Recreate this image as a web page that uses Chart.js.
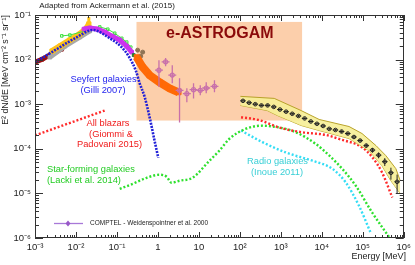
<!DOCTYPE html>
<html>
<head>
<meta charset="utf-8">
<script src="https://cdn.jsdelivr.net/npm/chart.js@4"></script>
<style>
  html, body { margin: 0; padding: 0; background: #fff; }
  #wrap { width: 415px; height: 265px; }
</style>
</head>
<body>
<div id="wrap"><canvas id="egb" width="415" height="265"></canvas></div>
<script>
// Energy in MeV, flux as E^2 dN/dE [MeV cm^-2 s^-1 sr^-1]
const xTicks = [1e-3, 1e-2, 1e-1, 1, 10, 1e2, 1e3, 1e4, 1e5, 1e6];
const xTickLabels = ['10⁻³', '10⁻²', '10⁻¹', '1', '10', '10²', '10³', '10⁴', '10⁵', '10⁶'];
const yTicks = [1e-6, 1e-5, 1e-4, 1e-3, 1e-2, 1e-1];
const yTickLabels = ['10⁻⁶', '10⁻⁵', '10⁻⁴', '10⁻³', '10⁻²', '10⁻¹'];

// model curves
const seyfertE = [1e-3, 3.1e-3, 9.4e-3, 2.6e-2, 6.7e-2, 0.13, 0.2, 0.29, 0.36, 0.47, 0.63, 0.83, 1.02];
const seyfertF = [8.7e-3, 1.63e-2, 3.0e-2, 4.6e-2, 3.0e-2, 1.9e-2, 1.13e-2, 5.6e-3, 2.9e-3, 1.5e-3, 5.0e-4, 1.5e-4, 6.3e-5];
const blazarLowE = [1e-3, 0.05];
const blazarLowF = [2.0e-4, 7.2e-4];
const blazarE = [107, 295, 912, 3390, 12600, 26300, 97700, 1.7e5, 2.95e5, 5.25e5];
const blazarF = [5.1e-4, 4.4e-4, 3.0e-4, 2.34e-4, 2.04e-4, 1.66e-4, 1.07e-4, 6.5e-5, 2.95e-5, 8.1e-6];
const starE = [0.117, 0.242, 0.53, 1.1, 1.63, 2.15, 3.37, 7.0, 18.1, 31.6, 55, 141, 355, 912, 2340, 7080, 15100, 31600, 67600, 1.7e5, 4.8e5];
const starF = [1.26e-5, 1.64e-5, 2.24e-5, 2.62e-5, 2.37e-5, 1.73e-5, 1.92e-5, 2.24e-5, 5.4e-5, 9.1e-5, 1.66e-4, 2.82e-4, 3.3e-4, 3.0e-4, 2.34e-4, 1.29e-4, 7.1e-5, 3.55e-5, 1.48e-5, 3.7e-6, 9.3e-7];
const radioE = [107, 355, 1320, 5900, 18200, 38000, 81300, 1.55e5];
const radioF = [2.57e-4, 1.41e-4, 8.3e-5, 5.4e-5, 3.55e-5, 1.78e-5, 5.2e-6, 1.32e-6];

// Fermi-LAT EGB
const fermiE = [119, 168, 238, 336, 475, 672, 950, 1344, 1900, 2690, 3800, 5380, 7600, 10760, 15200, 21500, 30400, 43000, 60800, 86000, 121600, 172000, 243000, 344000, 486000, 688000];
const fermiF = [1.19e-3, 1.08e-3, 1.0e-3, 9.4e-4, 9.4e-4, 8.7e-4, 7.6e-4, 6.8e-4, 6.1e-4, 5.45e-4, 4.8e-4, 4.1e-4, 3.64e-4, 3.25e-4, 2.8e-4, 2.64e-4, 2.44e-4, 2.2e-4, 1.84e-4, 1.53e-4, 1.18e-4, 9.35e-5, 7.2e-5, 5.15e-5, 2.9e-5, 1.82e-5];
const fermiErr = [0.06, 0.06, 0.06, 0.06, 0.06, 0.06, 0.06, 0.06, 0.06, 0.06, 0.06, 0.06, 0.06, 0.06, 0.06, 0.06, 0.07, 0.07, 0.08, 0.08, 0.1, 0.12, 0.15, 0.2, 0.3, 0.45];
const bandUpE = [103, 690, 3130, 8590, 46100, 95700, 2.1e5, 3.67e5, 6.43e5, 8.2e5];
const bandUpF = [1.5e-3, 1.35e-3, 7.2e-4, 4.55e-4, 3.16e-4, 2.2e-4, 1.18e-4, 7.0e-5, 3.58e-5, 1.92e-5];
const bandLoE = [103, 467, 817, 3130, 8590, 46100, 1.42e5, 2.93e5, 4.85e5, 8.2e5];
const bandLoF = [9.4e-4, 7.2e-4, 5.6e-4, 3.33e-4, 2.57e-4, 1.7e-4, 9.1e-5, 4.19e-5, 1.92e-5, 1.0e-5];

// COMPTEL
const comptelE = [1.06, 1.54, 2.24, 3.37, 5.08, 7.4, 10.8, 15.1, 24];
const comptelF = [5.8e-3, 8.9e-3, 4.5e-3, 2.05e-3, 1.72e-3, 2.12e-3, 2.05e-3, 2.31e-3, 2.52e-3];
const comptelLo = [2.43e-3, 7.1e-3, 2.94e-3, 3.9e-4, 1.11e-3, 1.35e-3, 1.58e-3, 1.75e-3, 1.85e-3];
const comptelHi = [9.7e-3, 1.08e-2, 7.5e-3, 3.81e-3, 2.27e-3, 2.94e-3, 2.65e-3, 3.1e-3, 3.44e-3];

// low-energy measurements
const orangeE = [0.303, 0.425, 0.628, 1.1, 1.93, 3.19];
const orangeF = [1.13e-2, 6.75e-3, 4.46e-3, 3.1e-3, 2.27e-3, 1.85e-3];
const darkRedE = [1.0e-3, 1.5e-3, 2.3e-3, 3.4e-3, 4.5e-3];
const darkRedF = [8.7e-3, 1.02e-2, 1.26e-2, 1.55e-2, 1.71e-2];
const yellowE = [2.6e-3, 4.1e-3, 7.1e-3, 1.24e-2, 1.84e-2, 2.06e-2];
const yellowF = [1.55e-2, 2.0e-2, 2.74e-2, 3.73e-2, 5.1e-2, 6.3e-2];
const grayE = [2.3e-3, 5.4e-3, 1.24e-2, 2.18e-2];
const grayF = [1.13e-2, 2.0e-2, 3.2e-2, 4.4e-2];
const greenE = [4.5e-3, 7.1e-3, 3.8e-2, 5.97e-2, 8.8e-2, 0.131, 0.173, 0.217];
const greenF = [3.4e-2, 3.55e-2, 5.4e-2, 4.8e-2, 3.9e-2, 3.0e-2, 2.47e-2, 1.9e-2];
const magentaE = [1.56e-2, 2.18e-2, 3.23e-2, 5.05e-2, 7.46e-2, 0.117, 0.173, 0.229];
const magentaF = [4.84e-2, 5.1e-2, 4.84e-2, 4.14e-2, 3.37e-2, 2.74e-2, 2.0e-2, 1.47e-2];
const brownE = [0.32, 0.38, 0.425];
const brownF = [1.63e-2, 1.19e-2, 1.47e-2];
const dkGreenE = [0.257];
const dkGreenF = [1.26e-2];

// e-ASTROGAM range
const boxE = [0.3, 3300];
const boxF = [4.3e-4, 0.07];

const FONT = '"Liberation Sans", Arial, sans-serif';
const pts = (xs, ys) => xs.map((x, i) => ({ x, y: ys[i] }));

const dotted = (label, xs, ys, color, width, dash) => ({
    label, data: pts(xs, ys), borderColor: color, backgroundColor: color,
    borderWidth: width, borderDash: dash, borderCapStyle: 'butt',
    pointRadius: 0, cubicInterpolationMode: 'monotone', fill: false
});
const blob = (label, xs, ys, color, width, radius) => ({
    label, data: pts(xs, ys), borderColor: color, backgroundColor: color,
    borderWidth: width, pointStyle: 'rect', pointRadius: radius, pointBorderWidth: 1,
    fill: false
});

const datasets = [
    dotted('Seyfert galaxies', seyfertE, seyfertF, '#2020d8', 2.6, [2, 1.2]),
    Object.assign(blob('COMPTEL', comptelE, comptelF, '#c870aa', 0, 2), {
        showLine: false, pointStyle: 'circle', backgroundColor: 'rgba(0,0,0,0)', pointBorderWidth: 1.2,
        errY: comptelLo.map((lo, i) => [lo, comptelHi[i]]), errX: 1.25, errColor: '#c870aa', errWidth: 1.3
    }),
    Object.assign(blob('Fermi-LAT', fermiE, fermiF, '#222', 0, 1.8), {
        showLine: false, pointStyle: 'circle', backgroundColor: 'rgba(0,0,0,0)', pointBorderWidth: 1,
        errY: fermiF.map((f, i) => [f * (1 - fermiErr[i]), f * (1 + fermiErr[i])]), errX: 1.17, errColor: '#222', errWidth: 1
    }),
    { label: 'band upper', data: pts(bandUpE, bandUpF), borderColor: '#b8a22a', borderWidth: 1,
      backgroundColor: 'rgba(246,238,150,0.9)', pointRadius: 0, fill: '+1', tension: 0 },
    { label: 'band lower', data: pts(bandLoE, bandLoF), borderColor: '#b8a22a', borderWidth: 1,
      pointRadius: 0, fill: false, tension: 0 },
    blob('orange', orangeE, orangeF, '#ff6a06', 8, 3.5),
    Object.assign(blob('brown', brownE, brownF, '#8f7455', 0, 2), { showLine: false, pointStyle: 'circle' }),
    Object.assign(blob('dark green', dkGreenE, dkGreenF, '#207a30', 0, 2), { showLine: false }),
    blob('magenta', magentaE, magentaF, '#cc33ee', 5, 2.5),
    Object.assign(blob('green', greenE, greenF, '#40e040', 1, 1.8), { backgroundColor: 'rgba(0,0,0,0)' }),
    Object.assign(blob('yellow', yellowE, yellowF, '#ffc21a', 6, 3), {
        errY: [null, null, null, null, null, [5.1e-2, 9.0e-2]], errColor: '#ffc21a', errWidth: 3
    }),
    blob('gray', grayE, grayF, '#a8a8a8', 5, 2.5),
    blob('dark red', darkRedE, darkRedF, '#9a1010', 5, 2.5),
    dotted('All blazars (low)', blazarLowE, blazarLowF, '#ff2a2a', 2.4, [2, 2]),
    dotted('All blazars', blazarE, blazarF, '#ff2a2a', 2.4, [2, 2]),
    dotted('Star-forming galaxies', starE, starF, '#2ee02e', 2.4, [2, 2]),
    dotted('Radio galaxies', radioE, radioF, '#35ddf5', 2.4, [2, 2])
];

// e-ASTROGAM box behind everything
const boxPlugin = {
    id: 'boxPlugin',
    beforeDatasetsDraw(chart) {
        const { ctx, scales: { x, y } } = chart;
        const l = x.getPixelForValue(boxE[0]), r = x.getPixelForValue(boxE[1]);
        const t = y.getPixelForValue(boxF[1]), b = y.getPixelForValue(boxF[0]);
        ctx.save();
        ctx.fillStyle = '#fccfab';
        ctx.fillRect(l, t, r - l, b - t);
        ctx.fillStyle = '#8b0a0a';
        ctx.font = 'bold 16px ' + FONT;
        ctx.textBaseline = 'middle';
        ctx.fillText('e-ASTROGAM', 166, 34);
        ctx.restore();
    }
};

// error bars drawn right after their dataset
const errorBars = {
    id: 'errorBars',
    afterDatasetDraw(chart, args) {
        const ds = chart.data.datasets[args.index];
        if (!ds.errY) return;
        const { ctx, scales: { x, y } } = chart;
        ctx.save();
        ctx.strokeStyle = ds.errColor;
        ctx.lineWidth = ds.errWidth;
        ctx.beginPath();
        ds.data.forEach((p, i) => {
            const e = ds.errY[i];
            if (!e) return;
            const px = x.getPixelForValue(p.x);
            ctx.moveTo(px, y.getPixelForValue(e[0]));
            ctx.lineTo(px, y.getPixelForValue(e[1]));
            if (ds.errX) {
                const py = y.getPixelForValue(p.y);
                ctx.moveTo(x.getPixelForValue(p.x / ds.errX), py);
                ctx.lineTo(x.getPixelForValue(p.x * ds.errX), py);
            }
        });
        ctx.stroke();
        ctx.restore();
    }
};

// frame with inward major/minor ticks on all sides, plus annotations
const framePlugin = {
    id: 'framePlugin',
    afterDatasetsDraw(chart) {
        const { ctx, chartArea: a, scales: { x, y } } = chart;
        ctx.save();
        ctx.strokeStyle = '#333';
        ctx.lineWidth = 1;
        ctx.strokeRect(Math.round(a.left) + 0.5, Math.round(a.top) + 0.5, Math.round(a.width) - 1, Math.round(a.height) - 1);
        ctx.beginPath();
        xTicks.forEach((d, j) => {
            for (let k = 1; k <= 9; k++) {
                if (j === xTicks.length - 1 && k > 1) break;
                const px = Math.round(x.getPixelForValue(k * d)) + 0.5;
                const len = k === 1 ? 6 : 3;
                ctx.moveTo(px, a.bottom); ctx.lineTo(px, a.bottom - len);
                ctx.moveTo(px, a.top); ctx.lineTo(px, a.top + len);
            }
        });
        yTicks.forEach((d, j) => {
            for (let k = 1; k <= 9; k++) {
                if (j === yTicks.length - 1 && k > 1) break;
                const py = Math.round(y.getPixelForValue(k * d)) + 0.5;
                const len = k === 1 ? 8 : 4;
                ctx.moveTo(a.left, py); ctx.lineTo(a.left + len, py);
                ctx.moveTo(a.right, py); ctx.lineTo(a.right - len, py);
            }
        });
        ctx.stroke();

        // COMPTEL legend entry
        ctx.strokeStyle = '#a878d8';
        ctx.lineWidth = 1.3;
        ctx.beginPath();
        ctx.moveTo(54, 223.5); ctx.lineTo(83, 223.5);
        ctx.stroke();
        ctx.fillStyle = '#9858c8';
        ctx.beginPath();
        ctx.moveTo(68, 220.5); ctx.lineTo(70.5, 223.5); ctx.lineTo(68, 226.5); ctx.lineTo(65.5, 223.5);
        ctx.closePath(); ctx.fill();
        ctx.fillStyle = '#222';
        ctx.font = '6.5px ' + FONT;
        ctx.textBaseline = 'middle';
        ctx.textAlign = 'left';
        ctx.fillText('COMPTEL - Weidenspointner et al. 2000', 90, 223.5);

        const label = (txt, px, py, color, align) => {
            ctx.fillStyle = color;
            ctx.textAlign = align || 'center';
            ctx.fillText(txt, px, py);
        };
        ctx.font = '9.3px ' + FONT;
        label('Seyfert galaxies', 103.5, 79, '#2424ee');
        label('(Gilli 2007)', 103, 90.5, '#2424ee');
        label('All blazars', 108, 123, '#f01a1a');
        label('(Giommi &', 111, 134, '#f01a1a');
        label('Padovani 2015)', 109.5, 144.5, '#f01a1a');
        label('Star-forming galaxies', 47, 169.5, '#22cc22', 'left');
        label('(Lacki et al. 2014)', 47, 180.5, '#22cc22', 'left');
        label('Radio galaxies', 277.5, 161, '#38cfd6');
        label('(Inoue 2011)', 277, 172, '#38cfd6');
        ctx.restore();
    },
    afterDraw(chart) {
        const { ctx } = chart;
        ctx.save();
        ctx.fillStyle = '#222';
        ctx.textBaseline = 'middle';
        ctx.font = '8px ' + FONT;
        ctx.textAlign = 'center';
        ctx.fillText('Adapted from Ackermann et al. (2015)', 107, 6);
        ctx.font = '9px ' + FONT;
        ctx.textAlign = 'right';
        ctx.fillText('Energy [MeV]', 406, 257);
        ctx.translate(6, 70);
        ctx.rotate(-Math.PI / 2);
        ctx.textAlign = 'center';
        ctx.font = '8.8px ' + FONT;
        ctx.fillText('E² dN/dE [MeV cm⁻² s⁻¹ sr⁻¹]', 0, 0);
        ctx.restore();
    }
};

new Chart(document.getElementById('egb'), {
    type: 'line',
    data: { datasets },
    options: {
        responsive: false,
        animation: false,
        parsing: true,
        layout: { padding: { top: 15, right: 9, left: 0, bottom: 0 } },
        plugins: { legend: { display: false }, tooltip: { enabled: false } },
        scales: {
            x: {
                type: 'logarithmic', min: 1e-3, max: 1e6,
                afterBuildTicks: s => { s.ticks = xTicks.map(v => ({ value: v })); },
                afterFit: s => { s.height = 27; },
                grid: { display: false, drawTicks: false },
                border: { display: false },
                ticks: {
                    autoSkip: false, maxRotation: 0, padding: 4, color: '#222',
                    font: { family: FONT, size: 9.5 },
                    callback: (v, i) => xTickLabels[i]
                }
            },
            y: {
                type: 'logarithmic', min: 1e-6, max: 1e-1,
                afterBuildTicks: s => { s.ticks = yTicks.map(v => ({ value: v })); },
                afterFit: s => { s.width = 35; },
                grid: { display: false, drawTicks: false },
                border: { display: false },
                ticks: {
                    autoSkip: false, padding: 4, color: '#222',
                    font: { family: FONT, size: 9.5 },
                    callback: (v, i) => yTickLabels[i]
                }
            }
        }
    },
    plugins: [boxPlugin, errorBars, framePlugin]
});
</script>
</body>
</html>
